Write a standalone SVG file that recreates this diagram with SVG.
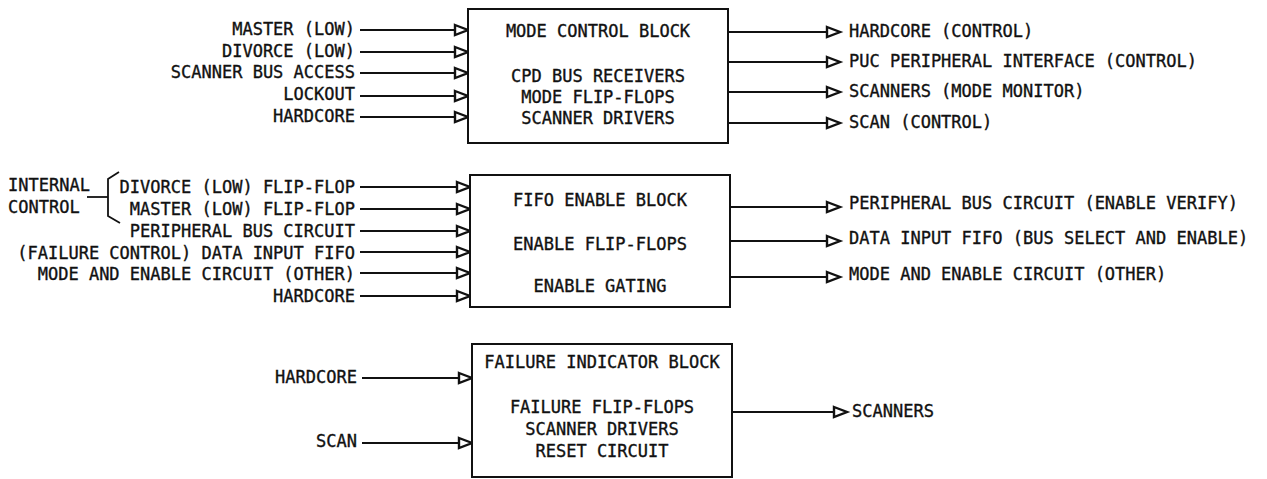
<svg xmlns="http://www.w3.org/2000/svg" width="1267" height="479" viewBox="0 0 1267 479">
<style>
text{font-family:"DejaVu Sans Mono","Liberation Mono",monospace;font-size:17px;fill:#111;stroke:#111;stroke-width:0.35}
.r{text-anchor:end}
.c{text-anchor:middle}
.box{fill:#fff;stroke:#111;stroke-width:2}
.w{stroke:#111;stroke-width:1.8;fill:none;marker-end:url(#ah)}
.br{stroke:#111;stroke-width:1.8;fill:none}
</style>
<defs>
<marker id="ah" markerUnits="userSpaceOnUse" markerWidth="18" markerHeight="14" viewBox="-2 -2 18 14" refX="13" refY="5" orient="auto" overflow="visible">
<path d="M0,0 L13,5 L0,10 Z" fill="#fff" stroke="#111" stroke-width="2.4" stroke-linejoin="miter"/>
</marker>
</defs>
<rect width="1267" height="479" fill="#fff"/>
<g id="connectors">
<line class="w" x1="360" y1="30" x2="468" y2="30"/>
<line class="w" x1="360" y1="52" x2="468" y2="52"/>
<line class="w" x1="360" y1="73" x2="468" y2="73"/>
<line class="w" x1="360" y1="96" x2="468" y2="96"/>
<line class="w" x1="360" y1="117" x2="468" y2="117"/>
<line class="w" x1="728" y1="32" x2="840" y2="32"/>
<line class="w" x1="728" y1="62" x2="840" y2="62"/>
<line class="w" x1="728" y1="92" x2="840" y2="92"/>
<line class="w" x1="728" y1="123" x2="840" y2="123"/>
<line class="w" x1="360" y1="187" x2="470" y2="187"/>
<line class="w" x1="360" y1="209" x2="470" y2="209"/>
<line class="w" x1="360" y1="231" x2="470" y2="231"/>
<line class="w" x1="360" y1="252" x2="470" y2="252"/>
<line class="w" x1="360" y1="273" x2="470" y2="273"/>
<line class="w" x1="360" y1="296" x2="470" y2="296"/>
<line class="w" x1="730" y1="207" x2="840" y2="207"/>
<line class="w" x1="730" y1="241" x2="840" y2="241"/>
<line class="w" x1="730" y1="277" x2="840" y2="277"/>
<line class="w" x1="362" y1="378" x2="472" y2="378"/>
<line class="w" x1="362" y1="443" x2="472" y2="443"/>
<line class="w" x1="732" y1="412" x2="847" y2="412"/>
<line class="br" x1="87" y1="197" x2="108" y2="197"/>
<polyline class="br" points="119,172 108,179 108,216 120,223"/>
</g>
<g id="mode-control-block">
<rect class="box" x="468" y="9" width="260" height="134"/>
<text class="c" x="598" y="37">MODE CONTROL BLOCK</text>
<text class="c" x="598" y="82">CPD BUS RECEIVERS</text>
<text class="c" x="598" y="103">MODE FLIP-FLOPS</text>
<text class="c" x="598" y="124">SCANNER DRIVERS</text>
</g>
<g id="mode-inputs">
<text class="r" x="355" y="35">MASTER (LOW)</text>
<text class="r" x="355" y="57">DIVORCE (LOW)</text>
<text class="r" x="355" y="78">SCANNER BUS ACCESS</text>
<text class="r" x="355" y="100">LOCKOUT</text>
<text class="r" x="355" y="122">HARDCORE</text>
</g>
<g id="mode-outputs">
<text x="849" y="37">HARDCORE (CONTROL)</text>
<text x="849" y="67">PUC PERIPHERAL INTERFACE (CONTROL)</text>
<text x="849" y="97">SCANNERS (MODE MONITOR)</text>
<text x="849" y="128">SCAN (CONTROL)</text>
</g>
<g id="fifo-enable-block">
<rect class="box" x="470" y="175" width="260" height="132"/>
<text class="c" x="600" y="206">FIFO ENABLE BLOCK</text>
<text class="c" x="600" y="250">ENABLE FLIP-FLOPS</text>
<text class="c" x="600" y="292">ENABLE GATING</text>
</g>
<g id="fifo-inputs">
<text x="8" y="191">INTERNAL</text>
<text x="8" y="213">CONTROL</text>
<text class="r" x="355" y="193">DIVORCE (LOW) FLIP-FLOP</text>
<text class="r" x="355" y="215">MASTER (LOW) FLIP-FLOP</text>
<text class="r" x="355" y="237">PERIPHERAL BUS CIRCUIT</text>
<text class="r" x="355" y="259">(FAILURE CONTROL) DATA INPUT FIFO</text>
<text class="r" x="355" y="280">MODE AND ENABLE CIRCUIT (OTHER)</text>
<text class="r" x="355" y="302">HARDCORE</text>
</g>
<g id="fifo-outputs">
<text x="849" y="209">PERIPHERAL BUS CIRCUIT (ENABLE VERIFY)</text>
<text x="849" y="244">DATA INPUT FIFO (BUS SELECT AND ENABLE)</text>
<text x="849" y="280">MODE AND ENABLE CIRCUIT (OTHER)</text>
</g>
<g id="failure-indicator-block">
<rect class="box" x="472" y="344" width="260" height="133"/>
<text class="c" x="602" y="368">FAILURE INDICATOR BLOCK</text>
<text class="c" x="602" y="413">FAILURE FLIP-FLOPS</text>
<text class="c" x="602" y="435">SCANNER DRIVERS</text>
<text class="c" x="602" y="457">RESET CIRCUIT</text>
</g>
<g id="failure-io">
<text class="r" x="357" y="383">HARDCORE</text>
<text class="r" x="357" y="447">SCAN</text>
<text x="852" y="417">SCANNERS</text>
</g>
</svg>
